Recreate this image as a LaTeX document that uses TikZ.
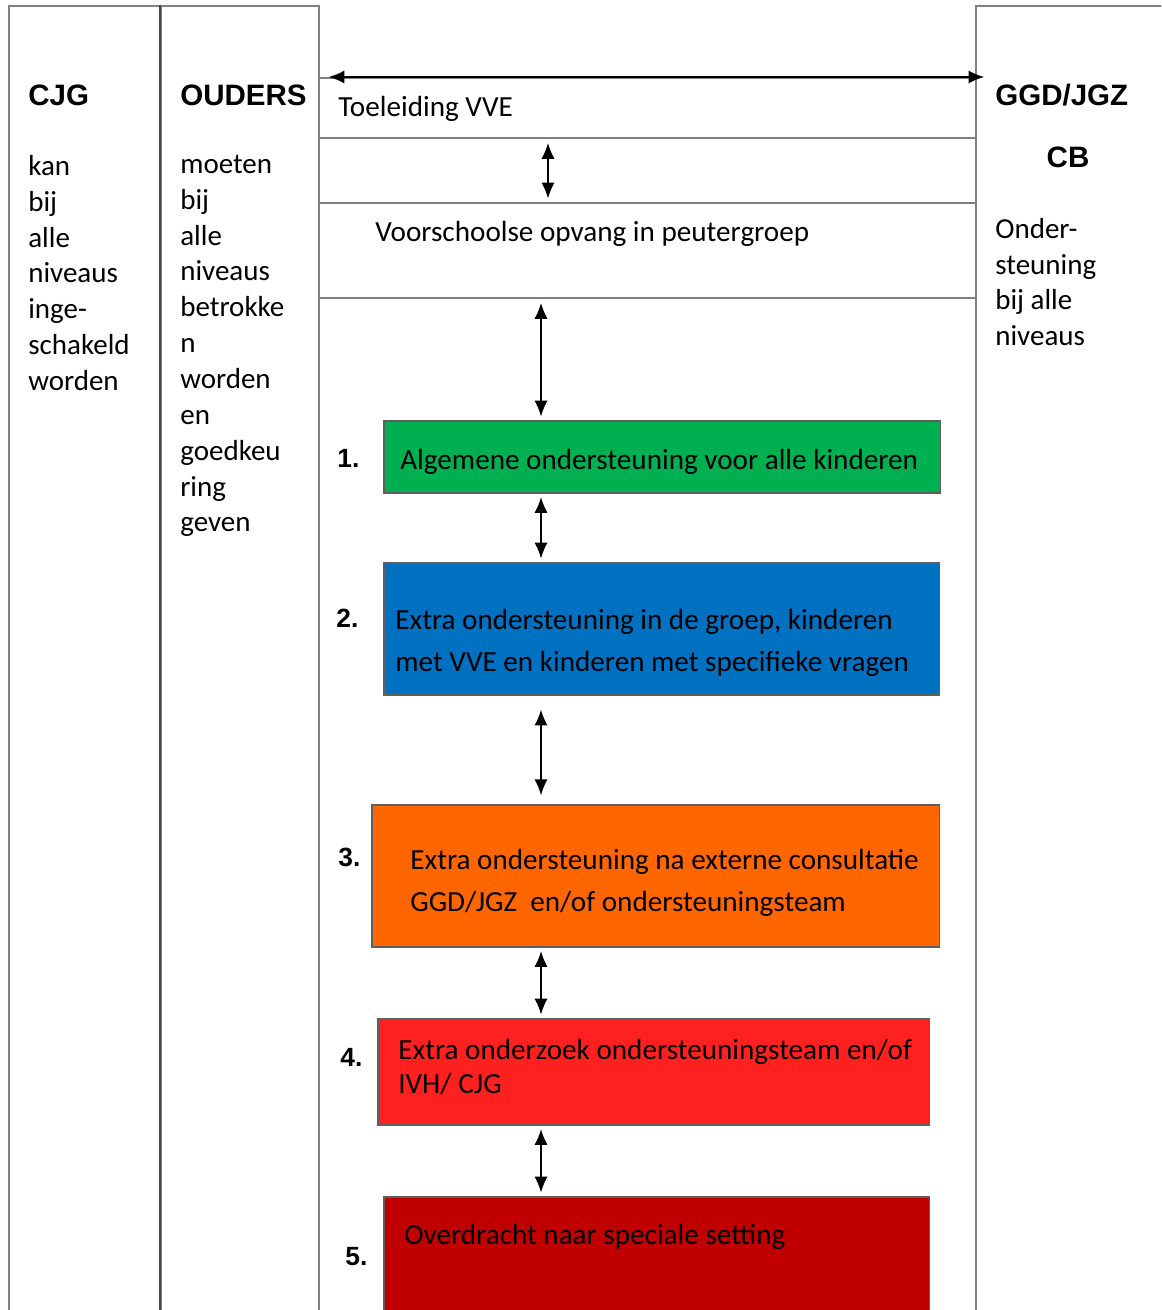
\documentclass[tikz,border=0pt]{standalone}
\usepackage{fontspec}
\setmainfont{Carlito}
\newfontfamily\headfont{Liberation Sans}
\usetikzlibrary{arrows.meta, positioning}
\definecolor{linegray}{RGB}{128, 128, 128}
\definecolor{divgray}{RGB}{70, 70, 70}
\definecolor{edgegray}{RGB}{95, 95, 95}
\definecolor{levelgreen}{RGB}{0, 176, 80}
\definecolor{levelblue}{RGB}{0, 112, 192}
\definecolor{levelorange}{RGB}{255, 102, 0}
\definecolor{levelred}{RGB}{255, 32, 32}
\definecolor{leveldark}{RGB}{192, 0, 0}

\begin{document}
\begin{tikzpicture}[
    x=0.02cm, y=-0.02cm,
    % Node styles
    column/.style={
        rectangle,
        draw=linegray,
        line width=1.4pt,
        anchor=north west,
        minimum width=#1,
        minimum height=27cm,
        inner sep=0pt
    },
    band/.style={
        rectangle,
        draw=linegray,
        line width=1.4pt,
        anchor=north west,
        minimum width=13.14cm,
        minimum height=#1,
        inner sep=0pt
    },
    level/.style={
        rectangle,
        draw=edgegray,
        fill=#1,
        line width=0.9pt,
        anchor=north west,
        inner sep=0pt
    },
    head/.style={
        font=\headfont\bfseries\fontsize{16.8}{20}\selectfont,
        anchor=west,
        inner sep=0pt
    },
    number/.style={
        font=\headfont\bfseries\fontsize{15}{18}\selectfont,
        anchor=west,
        inner sep=0pt
    },
    sidetext/.style={
        font=\fontsize{16.5}{20.4}\selectfont,
        align=left,
        anchor=west,
        inner sep=0pt
    },
    boxtext/.style={
        font=\fontsize{16.6}{#1}\selectfont,
        align=left,
        anchor=west,
        inner sep=0pt
    },
    link/.style={
        <->,
        >={Latex[length=9pt,width=7.5pt]},
        line width=0.9pt,
        color=black,
        shorten <=2pt,
        shorten >=2pt
    }
]
\useasboundingbox (0,0) rectangle (1161,1310);
\clip (0,0) rectangle (1161,1310);

% ============================================
% SIDE COLUMNS
% ============================================
\node[column=3.04cm] (cjgcol) at (8,5) {};
\node[column=3.16cm] (ouderscol) at (160,5) {};
\node[column=5cm] (ggdcol) at (975,5) {};
\draw[divgray, line width=1.6pt] (ouderscol.north west) -- (ouderscol.south west);

% CJG
\node[head] (cjghead) at (28,95) {CJG};
\node[sidetext] (cjgtext) at (28,273) {kan\\bij\\alle\\niveaus\\inge-\\schakeld\\worden};

% OUDERS
\node[head] (oudershead) at (180,95) {OUDERS};
\node[sidetext] (ouderstext) at (180,346) {moeten\\bij\\alle\\niveaus\\betrokke\\n\\worden\\en\\goedkeu\\ring\\geven};

% GGD/JGZ
\node[head] (ggdhead) at (995,95) {GGD/JGZ};
\node[head, anchor=center] (cbhead) at (1068,157) {CB};
\node[sidetext] (ggdtext) at (995,282) {Onder-\\steuning\\bij alle\\niveaus};

% ============================================
% TOP BANDS
% ============================================
\node[band=1.2cm] (toeleiding) at (318,77) {};
\node[boxtext=20] (toeltext) at (338,109) {Toeleiding VVE};

\node[band=1.9cm] (voorschool) at (318,202) {};
\node[boxtext=20] (voortext) at (375,234) {Voorschoolse opvang in peutergroep};

\coordinate (upper) at (548,0);
\coordinate (spine) at (541,0);

% ============================================
% LEVELS 1 - 5
% ============================================
\node[level=levelgreen, minimum width=11.14cm, minimum height=1.44cm] (level1) at (383,420) {};
\node[number] (num1) at (337,458) {1.};
\node[boxtext=20] (text1) at (400,462) {Algemene ondersteuning voor alle kinderen};

\node[level=levelblue, minimum width=11.12cm, minimum height=2.64cm] (level2) at (383,562) {};
\node[number] (num2) at (336,618) {2.};
\node[boxtext=23.8] (text2) at (395,643) {Extra ondersteuning in de groep, kinderen\\met VVE en kinderen met specifieke vragen};

\node[level=levelorange, minimum width=11.36cm, minimum height=2.84cm] (level3) at (371,804) {};
\node[number] (num3) at (338,857) {3.};
\node[boxtext=23.8] (text3) at (410,883) {Extra ondersteuning na externe consultatie\\GGD/JGZ \ en/of ondersteuningsteam};

\node[level=levelred, minimum width=11.04cm, minimum height=2.12cm] (level4) at (377,1018) {};
\node[number] (num4) at (340,1057) {4.};
\node[boxtext=19.3] (text4) at (398,1067) {Extra onderzoek ondersteuningsteam en/of\\IVH/ CJG};

\node[level=leveldark, minimum width=10.92cm, minimum height=3cm] (level5) at (383,1196) {};
\node[number] (num5) at (345,1257) {5.};
\node[boxtext=20] (text5) at (404,1237) {Overdracht naar speciale setting};

% ============================================
% ARROWS
% ============================================
\draw[link, line width=1.3pt, shorten <=6pt, shorten >=-4pt] (toeleiding.north west) -- (toeleiding.north east);
\draw[link] (toeleiding.south -| upper) -- (voorschool.north -| upper);
\draw[link] (voorschool.south -| spine) -- (level1.north -| spine);
\draw[link] (level1.south -| spine) -- (level2.north -| spine);
\draw[link, shorten <=8pt, shorten >=5pt] (level2.south -| spine) -- (level3.north -| spine);
\draw[link] (level3.south -| spine) -- (level4.north -| spine);
\draw[link] (level4.south -| spine) -- (level5.north -| spine);

\end{tikzpicture}
\end{document}
